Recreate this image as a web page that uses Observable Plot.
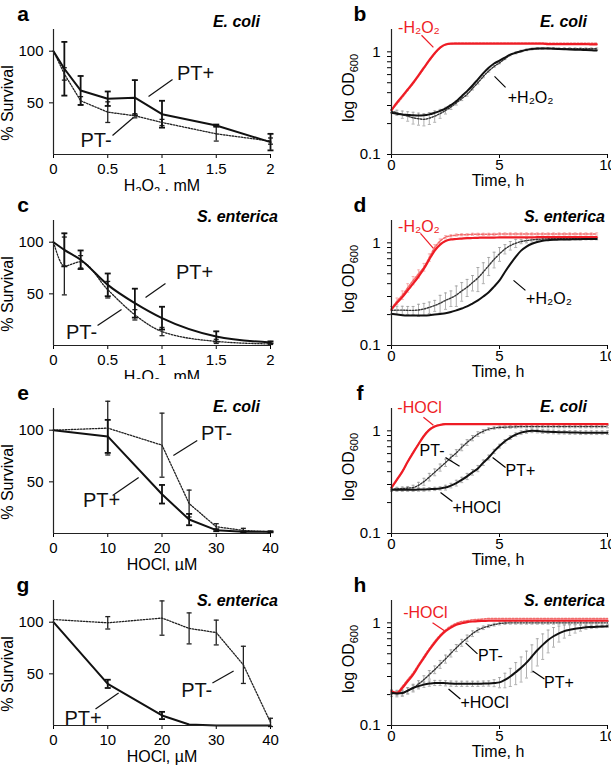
<!DOCTYPE html>
<html>
<head>
<meta charset="utf-8">
<script src="https://cdn.jsdelivr.net/npm/d3@7"></script>
<script src="https://cdn.jsdelivr.net/npm/@observablehq/plot@0.6"></script>
<style>
  body { margin: 0; background: #fff; }
  #chart { position: relative; width: 611px; height: 767px; overflow: hidden; background: #fff; }
  #chart svg { position: absolute; }
</style>
</head>
<body>
<div id="chart"></div>
<script>
// ---------------- DATA ----------------
// Survival panels (a, c: H2O2 mM; e, g: HOCl µM)
const doseH2O2 = [0, 0.1, 0.25, 0.5, 0.75, 1, 1.5, 2];
const doseHOCl = [0, 10, 20, 25, 30, 35, 40];
const ticksH2O2 = [0, 0.5, 1, 1.5, 2];
const ticksHOCl = [0, 10, 20, 30, 40];
const ticksSurvival = [50, 100];

const a_PTplus     = [100, 83, 62, 54, 55, 39, 28, 12];
const a_PTplusErr  = [0, 26, 14, 7, 17, 13, 1, 8];
const a_PTminus    = [100, 78, 52, 41, 37.5, 31, 20, 13];
const a_PTminusErr = [0, 6, 4, 10, 2, 3, 7, 3];

const c_PTplus     = [100, 92.6, 83, 58.7, 41, 26.5, 8.7, 3];
const c_PTplusErr  = [0, 16, 9, 11, 14, 11, 5, 1];
const c_PTminus    = [100, 77, 81, 54, 29.7, 13.5, 4, 1.5];
const c_PTminusErr = [0, 28, 6, 8, 5, 4, 2, 0.5];

const e_PTplus     = [100, 94, 38, 13.5, 3.2, 1.6, 1.6];
const e_PTplusErr  = [0, 16, 9, 5.5, 1, 0.5, 0.5];
const e_PTminus    = [100, 102, 85.5, 29, 6.5, 3, 1.6];
const e_PTminusErr = [0, 26, 31, 13, 3, 2, 0.5];

const g_PTplus     = [100, 40.3, 9.7, 1, 0, 0, 0];
const g_PTplusErr  = [0, 4, 3.5, 0, 0, 0, 0];
const g_PTminus    = [102.6, 99.4, 104, 94, 90, 58.7, 3];
const g_PTminusErr = [0, 6, 16.6, 15, 12, 18, 4];

// Growth panels (OD600 vs time, h)
const timeBD = [0,0.25,0.5,0.75,1,1.25,1.5,1.75,2,2.25,2.5,2.75,3,3.25,3.5,3.75,4,4.25,4.5,4.75,5,5.25,5.5,5.75,6,6.25,6.5,6.75,7,7.25,7.5,7.75,8,8.25,8.5,8.75,9,9.25,9.5];
const timeFH = [0,0.25,0.5,0.75,1,1.25,1.5,1.75,2,2.25,2.5,2.75,3,3.25,3.5,3.75,4,4.25,4.5,4.75,5,5.25,5.5,5.75,6,6.25,6.5,6.75,7,7.25,7.5,7.75,8,8.25,8.5,8.75,9,9.25,9.5,9.75,10];
const ticksTime = [0, 5, 10];
const ticksOD = [0.1,0.2,0.3,0.4,0.5,0.6,0.7,0.8,0.9,1];
const labelsOD = [0.1, 1];

// b: E. coli, H2O2
const b_redPTplus  = [0.27,0.32,0.37,0.43,0.50,0.59,0.70,0.83,0.97,1.10,1.18,1.20,1.20,1.20,1.20,1.20,1.20,1.20,1.20,1.20,1.20,1.20,1.20,1.20,1.20,1.20,1.20,1.20,1.20,1.19,1.19,1.19,1.19,1.19,1.19,1.19,1.19,1.18,1.18];
const b_redPTminus = [0.27,0.31,0.36,0.42,0.49,0.58,0.69,0.82,0.96,1.09,1.17,1.20,1.21,1.21,1.21,1.21,1.21,1.21,1.21,1.21,1.21,1.21,1.21,1.21,1.21,1.21,1.21,1.21,1.21,1.21,1.21,1.21,1.21,1.21,1.21,1.21,1.21,1.21,1.21];
const b_blkPTplus  = [0.255,0.25,0.245,0.243,0.241,0.24,0.241,0.246,0.255,0.266,0.28,0.303,0.33,0.37,0.414,0.47,0.54,0.62,0.70,0.77,0.82,0.88,0.94,0.98,1.015,1.045,1.065,1.075,1.08,1.075,1.07,1.065,1.06,1.055,1.05,1.045,1.04,1.035,1.03];
const b_blkPTminus = [0.264,0.255,0.245,0.236,0.228,0.223,0.22,0.226,0.236,0.25,0.268,0.29,0.318,0.35,0.385,0.44,0.50,0.575,0.65,0.72,0.78,0.855,0.93,0.975,1.015,1.045,1.065,1.075,1.08,1.08,1.08,1.075,1.075,1.075,1.07,1.07,1.07,1.07,1.07];
const b_blkPTminusErr = [0.01,0.015,0.02,0.025,0.03,0.03,0.03,0.03,0.03,0.025,0.02,0.015,0.015,0.015,0.015,0.015,0.015,0.015,0.015,0.015,0.015,0.015,0.015,0.02,0.02,0.02,0.02,0.02,0.02,0.02,0.02,0.02,0.02,0.02,0.02,0.02,0.02,0.02,0.02];

// d: S. enterica, H2O2
const d_redPTplus  = [0.225,0.26,0.296,0.345,0.40,0.47,0.56,0.69,0.84,0.96,1.04,1.08,1.09,1.10,1.11,1.115,1.12,1.125,1.125,1.125,1.13,1.13,1.13,1.13,1.13,1.13,1.13,1.135,1.135,1.135,1.135,1.135,1.135,1.135,1.135,1.135,1.135,1.135,1.135];
const d_redPTminus = [0.23,0.27,0.31,0.365,0.43,0.50,0.58,0.72,0.90,1.04,1.135,1.17,1.19,1.20,1.20,1.21,1.21,1.21,1.21,1.21,1.22,1.22,1.22,1.22,1.22,1.22,1.22,1.22,1.22,1.22,1.22,1.22,1.22,1.22,1.22,1.22,1.22,1.22,1.22];
const d_redPTminusErr = [0.01,0.02,0.03,0.035,0.04,0.045,0.05,0.06,0.06,0.05,0.04,0.03,0.03,0.03,0.03,0.03,0.03,0.03,0.03,0.03,0.03,0.03,0.03,0.03,0.03,0.03,0.03,0.03,0.03,0.03,0.03,0.03,0.03,0.03,0.03,0.03,0.03,0.03,0.03];
const d_blkPTplus  = [0.203,0.2,0.197,0.196,0.196,0.196,0.196,0.197,0.2,0.203,0.206,0.212,0.22,0.229,0.24,0.256,0.275,0.30,0.33,0.375,0.43,0.52,0.62,0.73,0.84,0.92,0.98,1.02,1.05,1.06,1.07,1.075,1.08,1.08,1.085,1.085,1.09,1.09,1.09];
const d_blkPTminus = [0.22,0.221,0.221,0.22,0.22,0.222,0.227,0.235,0.245,0.258,0.275,0.29,0.31,0.34,0.37,0.41,0.455,0.52,0.60,0.69,0.78,0.87,0.94,0.99,1.03,1.05,1.07,1.08,1.09,1.095,1.1,1.1,1.1,1.1,1.1,1.1,1.1,1.1,1.1];
const d_blkPTminusErr = [0.02,0.02,0.02,0.02,0.02,0.03,0.03,0.03,0.03,0.05,0.05,0.05,0.07,0.07,0.07,0.07,0.12,0.12,0.12,0.12,0.12,0.09,0.09,0.09,0.05,0.05,0.05,0.03,0.03,0.03,0.03,0.03,0.03,0.03,0.03,0.03,0.03,0.03,0.03];

// f: E. coli, HOCl
const f_redPTplus  = [0.28,0.335,0.40,0.50,0.61,0.74,0.89,1.02,1.10,1.14,1.16,1.16,1.16,1.16,1.16,1.16,1.16,1.16,1.16,1.16,1.16,1.16,1.16,1.16,1.16,1.16,1.16,1.16,1.16,1.16,1.16,1.16,1.16,1.16,1.16,1.16,1.16,1.16,1.16,1.16,1.16];
const f_redPTminus = [0.28,0.33,0.40,0.50,0.62,0.75,0.90,1.03,1.11,1.15,1.17,1.17,1.17,1.17,1.17,1.17,1.17,1.17,1.17,1.17,1.17,1.17,1.17,1.17,1.17,1.17,1.17,1.17,1.17,1.17,1.17,1.17,1.17,1.17,1.17,1.17,1.17,1.17,1.17,1.17,1.17];
const f_blkPTplus  = [0.267,0.267,0.267,0.267,0.267,0.268,0.268,0.27,0.272,0.275,0.28,0.293,0.31,0.333,0.36,0.395,0.43,0.49,0.55,0.63,0.71,0.79,0.86,0.92,0.96,0.985,1.0,0.995,0.985,0.98,0.975,0.97,0.97,0.965,0.965,0.96,0.96,0.96,0.96,0.96,0.96];
const f_blkPTplusErr = [0.01,0.01,0.01,0.01,0.01,0.01,0.01,0.01,0.01,0.01,0.015,0.015,0.02,0.02,0.025,0.025,0.03,0.03,0.03,0.03,0.03,0.03,0.035,0.035,0.04,0.04,0.04,0.04,0.04,0.04,0.04,0.04,0.04,0.04,0.04,0.04,0.04,0.04,0.04,0.04,0.04];
const f_blkPTminus = [0.27,0.272,0.274,0.277,0.28,0.295,0.32,0.355,0.395,0.44,0.49,0.55,0.61,0.69,0.77,0.85,0.93,0.99,1.04,1.065,1.08,1.085,1.09,1.095,1.1,1.1,1.1,1.1,1.1,1.1,1.1,1.1,1.1,1.1,1.1,1.1,1.1,1.1,1.1,1.1,1.1];
const f_blkPTminusErr = [0.01,0.01,0.01,0.01,0.015,0.02,0.025,0.03,0.03,0.035,0.04,0.04,0.045,0.05,0.05,0.05,0.05,0.04,0.03,0.03,0.03,0.03,0.03,0.03,0.03,0.03,0.03,0.03,0.03,0.03,0.03,0.03,0.03,0.03,0.03,0.03,0.03,0.03,0.03,0.03,0.03];

// h: S. enterica, HOCl
const h_redPTplus  = [0.215,0.207,0.232,0.27,0.313,0.38,0.455,0.545,0.64,0.74,0.83,0.9,0.96,0.99,1.015,1.03,1.04,1.045,1.05,1.05,1.05,1.05,1.05,1.05,1.05,1.05,1.05,1.05,1.05,1.05,1.05,1.05,1.05,1.05,1.05,1.05,1.05,1.05,1.05,1.05,1.05];
const h_redPTminus = [0.215,0.21,0.24,0.28,0.325,0.39,0.47,0.56,0.66,0.76,0.85,0.93,0.99,1.03,1.05,1.07,1.08,1.09,1.1,1.1,1.1,1.1,1.1,1.1,1.1,1.1,1.1,1.1,1.1,1.1,1.1,1.1,1.1,1.1,1.1,1.1,1.1,1.1,1.1,1.1,1.1];
const h_blkPTplus  = [0.207,0.205,0.207,0.218,0.232,0.242,0.25,0.256,0.26,0.26,0.258,0.256,0.255,0.255,0.255,0.255,0.255,0.256,0.257,0.259,0.263,0.278,0.30,0.33,0.365,0.41,0.47,0.54,0.61,0.68,0.74,0.79,0.83,0.855,0.875,0.89,0.905,0.91,0.915,0.92,0.925];
const h_blkPTplusErr = [0.015,0.015,0.015,0.015,0.015,0.015,0.015,0.015,0.015,0.015,0.015,0.015,0.015,0.015,0.015,0.015,0.015,0.015,0.015,0.02,0.03,0.045,0.06,0.08,0.1,0.12,0.14,0.16,0.17,0.17,0.16,0.14,0.12,0.1,0.08,0.06,0.04,0.03,0.025,0.02,0.02];
const h_blkPTminus = [0.21,0.205,0.207,0.218,0.232,0.253,0.28,0.313,0.35,0.395,0.445,0.505,0.57,0.64,0.71,0.785,0.85,0.895,0.93,0.96,0.985,0.995,1.0,1.0,1.0,1.0,1.0,1.0,1.0,1.0,1.0,1.0,1.0,1.0,1.0,1.0,1.0,1.0,1.0,1.0,1.0];
const h_blkPTminusErr = [0.01,0.01,0.01,0.015,0.02,0.02,0.025,0.03,0.03,0.035,0.04,0.04,0.045,0.05,0.05,0.05,0.04,0.035,0.03,0.03,0.03,0.03,0.03,0.03,0.03,0.03,0.03,0.03,0.03,0.03,0.03,0.03,0.03,0.03,0.03,0.03,0.03,0.03,0.03,0.03,0.03];

// Annotations (in data units of each panel)
const RED = "#ee1c25";
const a_notes = [{label: "PT+", x: 1.309, y: 78.4}, {label: "PT-", x: 0.392, y: 13.6}];
const a_leads = [{x1: 0.876, y1: 56.1, x2: 1.097, y2: 72.6}, {x1: 0.544, y1: 18.4, x2: 0.737, y2: 35.8}];
const c_notes = [{label: "PT+", x: 1.300, y: 71}, {label: "PT-", x: 0.258, y: 12.9}];
const c_leads = [{x1: 0.848, y1: 46.5, x2: 1.032, y2: 60}, {x1: 0.406, y1: 19.4, x2: 0.627, y2: 34.8}];
const e_notes = [{label: "PT-", x: 30.05, y: 96.8}, {label: "PT+", x: 8.85, y: 32}];
const e_leads = [{x1: 22.1, y1: 75.5, x2: 26.5, y2: 90}, {x1: 10.9, y1: 36.8, x2: 15.7, y2: 54.2}];
const g_notes = [{label: "PT-", x: 26.4, y: 33.4}, {label: "PT+", x: 5.44, y: 6.6}];
const g_leads = [{x1: 29.3, y1: 41.1, x2: 33.2, y2: 52.8}, {x1: 7.74, y1: 16, x2: 12.0, y2: 31.5}];

const b_notes = [{label: "-H₂O₂", x: 1.27, y: 1.73, c: RED}, {label: "+H₂O₂", x: 6.44, y: 0.36, c: "black"}];
const b_leads = [{x1: 1.39, y1: 1.449, x2: 1.94, y2: 1.106, c: RED}, {x1: 4.77, y1: 0.577, x2: 5.28, y2: 0.451, c: "black"}];
const d_notes = [{label: "-H₂O₂", x: 1.27, y: 1.416, c: RED}, {label: "+H₂O₂", x: 7.29, y: 0.287, c: "black"}];
const d_leads = [{x1: 1.34, y1: 1.238, x2: 1.94, y2: 0.884, c: RED}, {x1: 5.65, y1: 0.431, x2: 6.2, y2: 0.344, c: "black"}];
const f_notes = [{label: "-HOCl", x: 1.30, y: 1.658, c: RED}, {label: "PT-", x: 1.875, y: 0.631, c: "black"}, {label: "PT+", x: 5.97, y: 0.403, c: "black"}, {label: "+HOCl", x: 3.94, y: 0.179, c: "black"}];
const f_leads = [{x1: 1.48, y1: 1.355, x2: 1.94, y2: 1.132, c: RED}, {x1: 2.5, y1: 0.551, x2: 3.15, y2: 0.451, c: "black"}, {x1: 4.68, y1: 0.551, x2: 5.28, y2: 0.44, c: "black"}, {x1: 2.27, y1: 0.251, x2: 2.82, y2: 0.205, c: "black"}];
const h_notes = [{label: "-HOCl", x: 1.57, y: 1.252, c: RED}, {label: "PT-", x: 4.58, y: 0.477, c: "black"}, {label: "PT+", x: 7.75, y: 0.26, c: "black"}, {label: "+HOCl", x: 4.31, y: 0.166, c: "black"}];
const h_leads = [{x1: 1.9, y1: 1.0, x2: 2.45, y2: 0.835, c: RED}, {x1: 3.43, y1: 0.638, x2: 3.98, y2: 0.499, c: "black"}, {x1: 6.53, y1: 0.34, x2: 7.08, y2: 0.284, c: "black"}, {x1: 2.64, y1: 0.227, x2: 3.19, y2: 0.181, c: "black"}];

// ---------------- RENDER ----------------
const FONT = '"Liberation Sans", Arial, Helvetica, sans-serif';
const chart = document.getElementById("chart");
const cap = {draw(ctx, size) { const r = Math.sqrt(size / Math.PI); ctx.moveTo(-r, 0); ctx.lineTo(r, 0); }};
const fmt = d => String(d);

function rows(xs, ys, errs) {
  return xs.map((x, i) => {
    const e = errs ? errs[i] : 0;
    return {x, y: ys[i], e, lo: ys[i] - e, hi: ys[i] + e};
  });
}

function errMarks(data, color, width, r) {
  const d = data.filter(p => p.e > 0);
  return [
    Plot.ruleX(d, {x: "x", y1: "lo", y2: "hi", stroke: color, strokeWidth: width}),
    Plot.dot(d, {x: "x", y: "lo", symbol: cap, r, stroke: color, strokeWidth: width, fill: "none"}),
    Plot.dot(d, {x: "x", y: "hi", symbol: cap, r, stroke: color, strokeWidth: width, fill: "none"})
  ];
}

function survivalPanel(cfg) {
  const plus = rows(cfg.xs, cfg.plus, cfg.plusErr);
  const minus = rows(cfg.xs, cfg.minus, cfg.minusErr);
  return Plot.plot({
    width: 305, height: 195, marginLeft: 53, marginRight: 35, marginTop: 29, marginBottom: 41,
    style: {fontFamily: FONT, fontSize: "15px", background: "white", color: "black"},
    x: {domain: [0, cfg.xmax], ticks: cfg.xticks, tickFormat: fmt, tickSize: 4, tickPadding: 5, label: null},
    y: {domain: [0, 121], ticks: ticksSurvival, tickFormat: fmt, tickSize: 4, tickPadding: 6, label: null},
    marks: [
      ...errMarks(minus, "#222", 1.3, 2.5),
      ...errMarks(plus, "#111", 1.8, 3),
      Plot.line(minus, {x: "x", y: "y", stroke: "#222", strokeWidth: 1.3, strokeDasharray: "1.5,1.5", curve: cfg.curve}),
      Plot.line(plus, {x: "x", y: "y", stroke: "#111", strokeWidth: 2, curve: cfg.curve}),
      Plot.link(cfg.leads, {x1: "x1", y1: "y1", x2: "x2", y2: "y2", stroke: "#111", strokeWidth: 1.2}),
      Plot.text(cfg.notes, {x: "x", y: "y", text: "label", fontSize: 20, fill: "#111", lineAnchor: "middle"}),
      Plot.ruleX([0], {stroke: "#222", strokeWidth: 1.2}),
      Plot.ruleY([0], {stroke: "#222", strokeWidth: 1.2})
    ]
  });
}

function growthPanel(cfg) {
  const rP = rows(cfg.t, cfg.redPlus);
  const rM = rows(cfg.t, cfg.redMinus, cfg.redMinusErr);
  const kP = rows(cfg.t, cfg.blkPlus, cfg.blkPlusErr);
  const kM = rows(cfg.t, cfg.blkMinus, cfg.blkMinusErr);
  return Plot.plot({
    width: 306, height: 195, marginLeft: 86, marginRight: 4, marginTop: 29, marginBottom: 41,
    style: {fontFamily: FONT, fontSize: "15px", background: "white", color: "black"},
    x: {domain: [0, 10], ticks: ticksTime, tickFormat: fmt, tickSize: 4, tickPadding: 1, label: null},
    y: {type: "log", domain: [0.1, 1.65], ticks: ticksOD, tickFormat: d => labelsOD.includes(d) ? String(d) : "", tickSize: 4, tickPadding: 7, label: null},
    marks: [
      ...errMarks(rM, "#f5a3a3", 0.8, 1.5),
      ...errMarks(kM, "#9a9a9a", 0.8, 1.5),
      ...errMarks(kP, "#9a9a9a", 0.8, 1.5),
      Plot.line(rM, {x: "x", y: "y", stroke: "#f26b6b", strokeWidth: 1.5, strokeDasharray: "2,1.5", curve: "monotone-x"}),
      Plot.line(kM, {x: "x", y: "y", stroke: "#333", strokeWidth: 1.4, strokeDasharray: "1.5,1.5", curve: "monotone-x"}),
      Plot.line(rP, {x: "x", y: "y", stroke: RED, strokeWidth: 2.2, curve: "monotone-x"}),
      Plot.line(kP, {x: "x", y: "y", stroke: "#111", strokeWidth: 2, curve: "monotone-x"}),
      Plot.link(cfg.leads, {x1: "x1", y1: "y1", x2: "x2", y2: "y2", stroke: "c", strokeWidth: 1.2}),
      Plot.text(cfg.notes, {x: "x", y: "y", text: "label", fill: "c", fontSize: 16, lineAnchor: "middle"}),
      Plot.ruleX([0], {stroke: "#222", strokeWidth: 1.2}),
      Plot.ruleY([0.1], {stroke: "#222", strokeWidth: 1.2})
    ]
  });
}

function decorate(svg, o) {
  const s = d3.select(svg);
  s.selectAll("g[aria-label*='axis'] text").style("font-size", "15px").style("font-family", FONT);
  s.append("text").attr("x", o.letterX).attr("y", 20.5)
    .attr("font-family", FONT).attr("font-size", 21).attr("font-weight", "bold").attr("fill", "#000").text(o.letter);
  s.append("text").attr("x", o.titleX).attr("y", o.titleY).attr("text-anchor", "end")
    .attr("font-family", FONT).attr("font-size", 16).attr("font-weight", "bold").attr("font-style", "italic").attr("fill", "#000").text(o.title);
  const yt = s.append("text").attr("transform", `translate(${o.yTitleX},${o.yTitleY}) rotate(-90)`)
    .attr("text-anchor", "middle").attr("font-family", FONT).attr("font-size", 16).attr("fill", "#000");
  appendParts(yt, o.yTitle);
  const xt = s.append("text").attr("x", o.xTitleX).attr("y", o.xTitleY)
    .attr("text-anchor", "middle").attr("font-family", FONT).attr("font-size", 16).attr("fill", "#000");
  appendParts(xt, o.xTitle);
}
function appendParts(t, parts) {
  let shifted = false;
  for (const [txt, sub] of parts) {
    const ts = t.append("tspan").text(txt);
    if (sub && !shifted) { ts.attr("font-size", 11).attr("dy", 4); shifted = true; }
    else if (sub) { ts.attr("font-size", 11); }
    else if (shifted) { ts.attr("dy", -4); shifted = false; }
  }
}

const rowTop = [0, 191, 379, 570.5];
const titleY = [26.5, 31, 32.5, 34.5];
const yTitleSurv = [["% Survival", false]];
const yTitleOD = [["log OD", false], ["600", true]];
const xTitleH2O2 = [["H", false], ["2", true], ["O", false], ["2", true], [" , mM", false]];
const xTitleHOCl = [["HOCl, µM", false]];
const xTitleTime = [["Time, h", false]];

const panels = [
  {svg: survivalPanel({xs: doseH2O2, xmax: 2, xticks: ticksH2O2, plus: a_PTplus, plusErr: a_PTplusErr, minus: a_PTminus, minusErr: a_PTminusErr, notes: a_notes, leads: a_leads, curve: "linear"}),
   left: 0, row: 0, letter: "a", title: "E. coli", xTitle: xTitleH2O2, side: "L"},
  {svg: growthPanel({t: timeBD, redPlus: b_redPTplus, redMinus: b_redPTminus, blkPlus: b_blkPTplus, blkMinus: b_blkPTminus, blkMinusErr: b_blkPTminusErr, notes: b_notes, leads: b_leads}),
   left: 305, row: 0, letter: "b", title: "E. coli", xTitle: xTitleTime, side: "R"},
  {svg: survivalPanel({xs: doseH2O2, xmax: 2, xticks: ticksH2O2, plus: c_PTplus, plusErr: c_PTplusErr, minus: c_PTminus, minusErr: c_PTminusErr, notes: c_notes, leads: c_leads, curve: "monotone-x"}),
   left: 0, row: 1, letter: "c", title: "S. enterica", xTitle: xTitleH2O2, side: "L"},
  {svg: growthPanel({t: timeBD, redPlus: d_redPTplus, redMinus: d_redPTminus, redMinusErr: d_redPTminusErr, blkPlus: d_blkPTplus, blkMinus: d_blkPTminus, blkMinusErr: d_blkPTminusErr, notes: d_notes, leads: d_leads}),
   left: 305, row: 1, letter: "d", title: "S. enterica", xTitle: xTitleTime, side: "R"},
  {svg: survivalPanel({xs: doseHOCl, xmax: 40, xticks: ticksHOCl, plus: e_PTplus, plusErr: e_PTplusErr, minus: e_PTminus, minusErr: e_PTminusErr, notes: e_notes, leads: e_leads, curve: "linear"}),
   left: 0, row: 2, letter: "e", title: "E. coli", xTitle: xTitleHOCl, side: "L"},
  {svg: growthPanel({t: timeFH, redPlus: f_redPTplus, redMinus: f_redPTminus, blkPlus: f_blkPTplus, blkPlusErr: f_blkPTplusErr, blkMinus: f_blkPTminus, blkMinusErr: f_blkPTminusErr, notes: f_notes, leads: f_leads}),
   left: 305, row: 2, letter: "f", title: "E. coli", xTitle: xTitleTime, side: "R"},
  {svg: survivalPanel({xs: doseHOCl, xmax: 40, xticks: ticksHOCl, plus: g_PTplus, plusErr: g_PTplusErr, minus: g_PTminus, minusErr: g_PTminusErr, notes: g_notes, leads: g_leads, curve: "linear"}),
   left: 0, row: 3, letter: "g", title: "S. enterica", xTitle: xTitleHOCl, side: "L"},
  {svg: growthPanel({t: timeFH, redPlus: h_redPTplus, redMinus: h_redPTminus, blkPlus: h_blkPTplus, blkPlusErr: h_blkPTplusErr, blkMinus: h_blkPTminus, blkMinusErr: h_blkPTminusErr, notes: h_notes, leads: h_leads}),
   left: 305, row: 3, letter: "h", title: "S. enterica", xTitle: xTitleTime, side: "R"}
];

for (const p of panels) {
  const svg = p.svg;
  svg.style.position = "absolute";
  svg.style.left = p.left + "px";
  svg.style.top = rowTop[p.row] + "px";
  const L = p.side === "L";
  decorate(svg, {
    letter: p.letter, letterX: L ? 23 : 55,
    title: p.title, titleX: L ? (p.title === "E. coli" ? 260 : 278) : (p.title === "E. coli" ? 282 : 300), titleY: titleY[p.row],
    yTitle: L ? yTitleSurv : yTitleOD, yTitleX: L ? 12.5 : 49, yTitleY: L ? 103 : 88,
    xTitle: p.xTitle, xTitleX: L ? 162 : 193, xTitleY: L ? 191 : 186
  });
  chart.appendChild(svg);
}
</script>
</body>
</html>
